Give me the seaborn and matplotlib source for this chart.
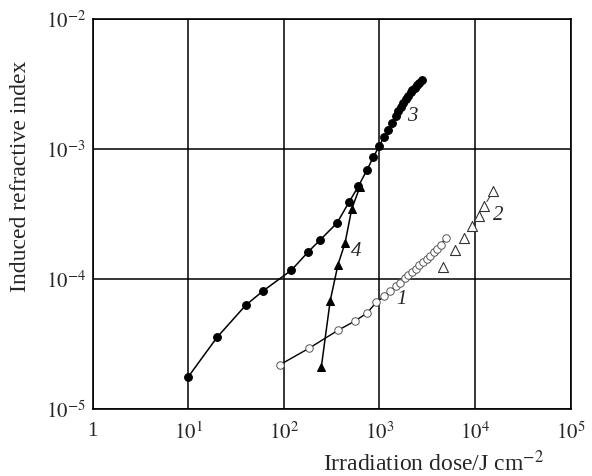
import matplotlib
matplotlib.use("Agg")
import matplotlib.pyplot as plt
import seaborn as sns
import pandas as pd

# ---- data ----
dose3 = [10, 20, 40, 60, 120, 180, 240, 360, 480, 600, 740, 860, 990, 1110, 1240,
         1360, 1490, 1570, 1670, 1780, 1890, 2000, 2120, 2210, 2330, 2450, 2600, 2780]
n3 = [1.77e-5, 3.56e-5, 6.3e-5, 8.05e-5, 1.17e-4, 1.62e-4, 2.0e-4, 2.7e-4, 3.9e-4,
      5.15e-4, 6.9e-4, 8.6e-4, 1.05e-3, 1.23e-3, 1.41e-3, 1.58e-3, 1.79e-3, 1.96e-3,
      2.09e-3, 2.26e-3, 2.43e-3, 2.57e-3, 2.73e-3, 2.86e-3, 2.97e-3, 3.08e-3, 3.22e-3, 3.41e-3]

dose4 = [246, 305, 368, 436, 512, 625]
n4 = [2.09e-5, 6.8e-5, 1.29e-4, 1.89e-4, 3.45e-4, 5.13e-4]

dose1 = [91, 183, 368, 554, 740, 926, 1115, 1298, 1477, 1650, 1835, 2000, 2187,
         2392, 2610, 2851, 3117, 3377, 3689, 4024, 4400, 4925]
n1 = [2.19e-5, 2.93e-5, 4.03e-5, 4.75e-5, 5.47e-5, 6.62e-5, 7.36e-5, 8.04e-5,
      8.79e-5, 9.37e-5, 1.01e-4, 1.07e-4, 1.14e-4, 1.19e-4, 1.27e-4, 1.34e-4,
      1.43e-4, 1.51e-4, 1.60e-4, 1.70e-4, 1.84e-4, 2.08e-4]

dose2 = [4614, 6165, 7715, 9350, 10900, 12480, 15500]
n2 = [1.23e-4, 1.67e-4, 2.08e-4, 2.56e-4, 3.05e-4, 3.67e-4, 4.77e-4]

xticks = [1, 10, 100, 1000, 10000, 100000]
xticklabels = ["1", "$10^{1}$", "$10^{2}$", "$10^{3}$", "$10^{4}$", "$10^{5}$"]
yticks = [1e-5, 1e-4, 1e-3, 1e-2]
yticklabels = ["$10^{-5}$", "$10^{-4}$", "$10^{-3}$", "$10^{-2}$"]

curve_labels = ["1", "2", "3", "4"]
label_pos = [(1708, 7.1e-5), (17500, 3.16e-4), (2188, 1.8e-3), (577, 1.65e-4)]

# ---- style ----
sns.set_style("white")
plt.rcParams["font.family"] = ["Liberation Serif", "DejaVu Serif"]
plt.rcParams["mathtext.fontset"] = "stix"

fig = plt.figure(figsize=(5.92, 4.77), dpi=100)
ax = fig.add_axes([0.1566, 0.1405, 0.8074, 0.8176])

df1 = pd.DataFrame({"dose": dose1, "n": n1})
df2 = pd.DataFrame({"dose": dose2, "n": n2})
df3 = pd.DataFrame({"dose": dose3, "n": n3})
df4 = pd.DataFrame({"dose": dose4, "n": n4})

sns.lineplot(data=df1, x="dose", y="n", ax=ax, sort=False, estimator=None,
             color="black", lw=1.0, marker="o", markersize=5.4,
             markerfacecolor="white", markeredgecolor="#555555", markeredgewidth=0.7)
sns.lineplot(data=df3, x="dose", y="n", ax=ax, sort=False, estimator=None,
             color="black", lw=1.1, marker="o", markersize=5.6,
             markerfacecolor="black", markeredgecolor="black")
sns.lineplot(data=df4, x="dose", y="n", ax=ax, sort=False, estimator=None,
             color="black", lw=1.1, marker="^", markersize=6.4,
             markerfacecolor="black", markeredgecolor="black")
sns.scatterplot(data=df2, x="dose", y="n", ax=ax, marker="^", s=52,
                facecolor="white", edgecolor="#333333", linewidth=0.8)

# short leader line for curve 2
ax.plot([13300, 14300], [3.95e-4, 4.3e-4], color="#444444", lw=0.8)

for lab, (lx, ly) in zip(curve_labels, label_pos):
    ax.text(lx, ly, lab, fontsize=15, style="italic", ha="center", va="center")

ax.set_xscale("log")
ax.set_yscale("log")
ax.set_xlim(1, 1e5)
ax.set_ylim(1e-5, 1e-2)
ax.set_xticks(xticks)
ax.set_xticklabels(xticklabels)
ax.set_yticks(yticks)
ax.set_yticklabels(yticklabels)
ax.minorticks_off()
ax.tick_params(axis="both", length=0, labelsize=15)
ax.tick_params(axis="x", pad=9)
ax.tick_params(axis="y", pad=5)
ax.grid(True, which="major", color="black", lw=1.1)
for s in ax.spines.values():
    s.set_color("black")
    s.set_linewidth(1.2)

ax.set_xlabel("Irradiation dose/J cm$^{-2}$", fontsize=17)
ax.xaxis.set_label_coords(0.714, -0.105)
ax.set_ylabel("Induced refractive index", fontsize=17)
ax.yaxis.set_label_coords(-0.13, 0.6)

fig.savefig("out.png", dpi=100)
